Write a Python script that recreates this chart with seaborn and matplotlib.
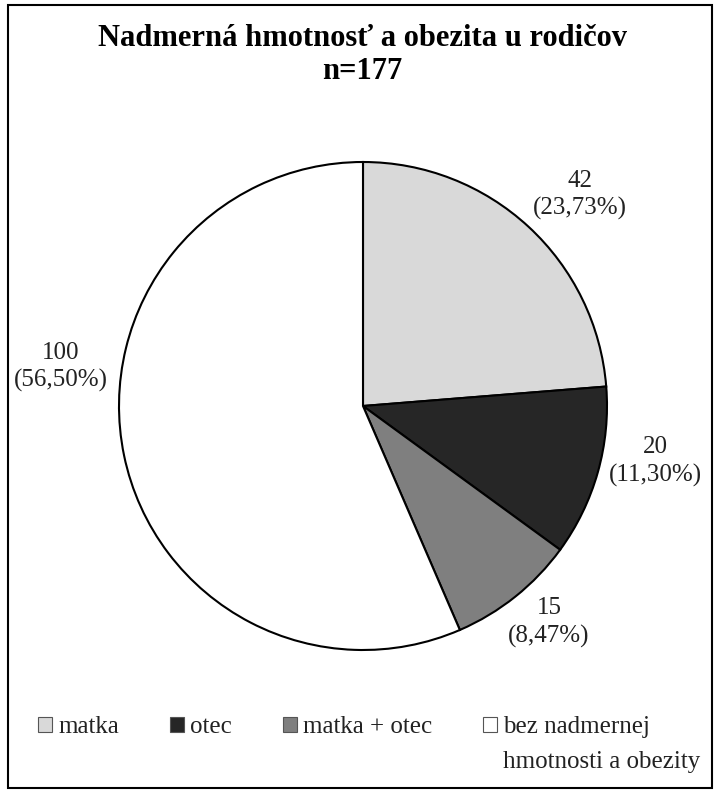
import numpy as np
import matplotlib
matplotlib.use("Agg")
import matplotlib.pyplot as plt
import seaborn as sns
from matplotlib.patches import Patch, Rectangle

categories = ["matka", "otec", "matka + otec", "bez nadmernej hmotnosti a obezity"]
counts = [42, 20, 15, 100]
percents = ["23,73%", "11,30%", "8,47%", "56,50%"]
title = "Nadmerná hmotnosť a obezita u rodičov\nn=177"

colors = ["#d9d9d9", "#262626", "#7f7f7f", "#ffffff"]
label_angle_nudge = [-3, 5, 2, -19]
label_dist = [1.24, 1.22, 1.17, 1.25]

sns.set_theme(style="white")
plt.rcParams["font.family"] = ["Liberation Serif", "DejaVu Serif"]

fig = plt.figure(figsize=(7.2, 8), dpi=100)
fig.patch.set_facecolor("white")

cx, cy, r = 363, 406, 244
ax = fig.add_axes([(cx - r) / 720, (800 - cy - r) / 800, 2 * r / 720, 2 * r / 800])
wedges, _ = ax.pie(counts, colors=colors, startangle=90, counterclock=False,
                   wedgeprops=dict(edgecolor="black", linewidth=1.5), radius=1)
ax.set_xlim(-1, 1)
ax.set_ylim(-1, 1)
ax.set_aspect("equal")
ax.axis("off")

for w, c, p, nud, d in zip(wedges, counts, percents, label_angle_nudge, label_dist):
    ang = np.deg2rad((w.theta1 + w.theta2) / 2 + nud)
    ax.text(d * np.cos(ang), d * np.sin(ang), f"{c}\n({p})", ha="center", va="center",
            fontsize=18, color="#222222", linespacing=1.3)

fig.text(362 / 720, 1 - 55 / 800, title, ha="center", va="center", fontsize=22,
         fontweight="bold", linespacing=1.15, color="black")

# legend: last label wraps onto a second line aligned with the first
first, rest = "bez nadmernej", categories[3][len("bez nadmernej "):]
leg_labels = categories[:3] + [first]
handles = [Patch(facecolor=col, edgecolor="#555555", linewidth=0.8) for col in colors]
leg = fig.legend(handles, leg_labels, loc="center left", bbox_to_anchor=(38 / 720, 1 - 727 / 800),
                 ncol=4, frameon=False, fontsize=18, handlelength=0.55, handleheight=0.55,
                 handletextpad=0.25, columnspacing=2.05, labelcolor="#222222",
                 borderpad=0, borderaxespad=0)
fig.canvas.draw()
tb = leg.get_texts()[3].get_window_extent()
fig.text(tb.x0 / 720, (tb.y0 - 35) / 800 + (tb.height / 2) / 800, rest, ha="left", va="center",
         fontsize=18, color="#222222")

fig.patches.append(Rectangle((8 / 720, 12 / 800), 704 / 720, 783 / 800, transform=fig.transFigure,
                             fill=False, edgecolor="black", linewidth=1.5))

fig.savefig("out.png", dpi=100)
